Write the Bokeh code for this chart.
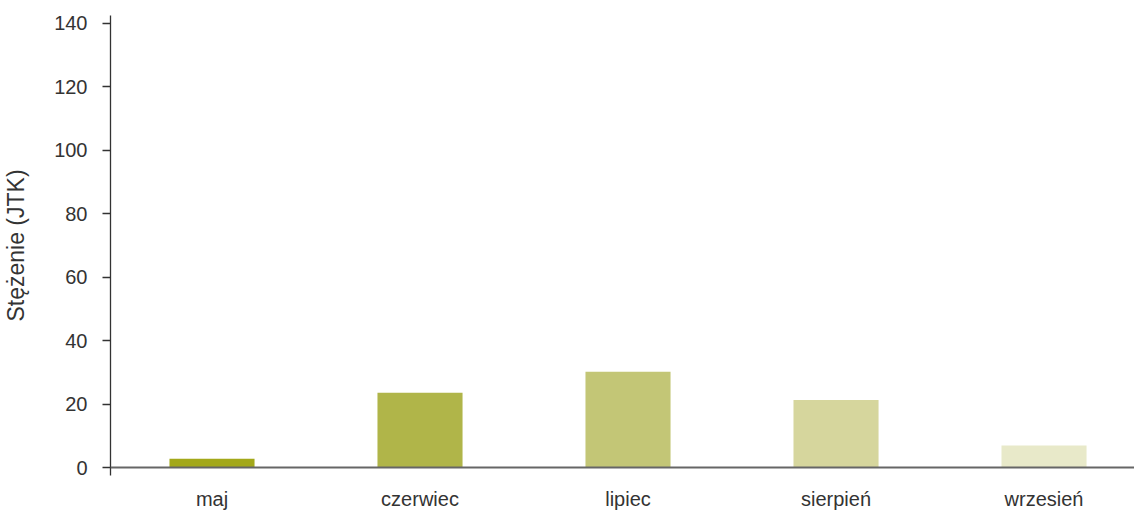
from bokeh.plotting import figure
from bokeh.models import Range1d, FixedTicker, ColumnDataSource, Span
from bokeh.embed import file_html
from bokeh.resources import INLINE

categories = ["maj", "czerwiec", "lipiec", "sierpień", "wrzesień"]
values = [2.8, 23.6, 30.2, 21.3, 6.9]
colors = ["#a3a81a", "#b0b549", "#c3c676", "#d6d69d", "#e8e9c9"]
y_ticks = [0, 20, 40, 60, 80, 100, 120, 140]
y_title = "Stężenie (JTK)"

FONT = "Liberation Sans"
TXT = "#333333"

idx = list(range(len(categories)))
src = ColumnDataSource(dict(x=idx, top=values, color=colors, cat=categories))

p = figure(width=1134, height=512, output_backend="svg", toolbar_location=None,
           x_range=Range1d(-0.488, 4.435), y_range=Range1d(-2.52, 142.5),
           min_border_left=110, min_border_right=0, min_border_top=15, min_border_bottom=36)
p.outline_line_color = None
p.xgrid.visible = False
p.ygrid.visible = False
p.background_fill_color = "white"
p.border_fill_color = "white"

p.vbar(x="x", top="top", bottom=0, width=0.409, color="color", line_color=None, source=src)

# baseline at zero
p.add_layout(Span(location=0, dimension="width", line_color="#666666", line_width=2))

xa = p.xaxis[0]
xa.ticker = FixedTicker(ticks=idx)
xa.major_label_overrides = {i: c for i, c in zip(idx, categories)}
xa.axis_line_color = None
xa.major_tick_line_color = None
xa.minor_tick_line_color = None
xa.major_tick_out = 0
xa.major_tick_in = 0
xa.major_label_standoff = 12
xa.major_label_text_font = FONT
xa.major_label_text_font_size = "20px"
xa.major_label_text_color = TXT

ya = p.yaxis[0]
ya.ticker = FixedTicker(ticks=y_ticks)
ya.axis_line_color = "#333333"
ya.axis_line_width = 1.3
ya.major_tick_line_color = "#333333"
ya.major_tick_line_width = 1.3
ya.major_tick_out = 8
ya.major_tick_in = 0
ya.minor_tick_line_color = None
ya.major_label_standoff = 15
ya.major_label_text_font = FONT
ya.major_label_text_font_size = "20px"
ya.major_label_text_color = TXT
ya.axis_label = y_title
ya.axis_label_text_font = FONT
ya.axis_label_text_font_size = "23px"
ya.axis_label_text_font_style = "normal"
ya.axis_label_text_color = TXT
ya.axis_label_standoff = 22

open("out.html", "w").write(file_html(p, INLINE))
